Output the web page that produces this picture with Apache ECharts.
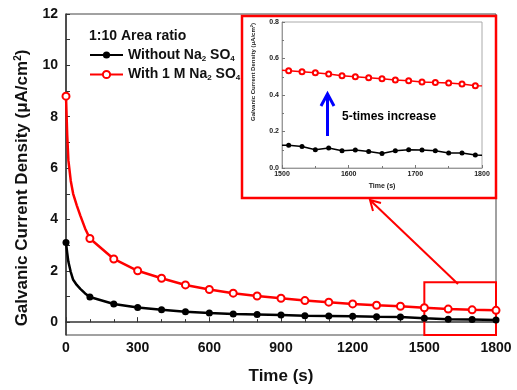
<!DOCTYPE html>
<html>
<head>
<meta charset="utf-8">
<script src="https://cdn.jsdelivr.net/npm/echarts@6/dist/echarts.min.js"></script>
<style>
  html, body { margin: 0; padding: 0; background: #fff; }
  #chart { width: 517px; height: 390px; }
</style>
</head>
<body>
<div id="chart"></div>
<script>
// main plot: time (s) and current density (uA/cm2)
const mainTime = [0, 5, 10, 20, 30, 45, 60, 80, 100, 200, 300, 400, 500, 600, 700, 800, 900, 1000, 1100, 1200, 1300, 1400, 1500, 1600, 1700, 1800];
const withoutNa = [3.1, 2.7, 2.35, 1.95, 1.65, 1.45, 1.3, 1.12, 0.98, 0.71, 0.57, 0.48, 0.41, 0.36, 0.32, 0.3, 0.28, 0.25, 0.24, 0.23, 0.21, 0.2, 0.15, 0.11, 0.1, 0.08];
const withNa = [8.8, 7.3, 6.3, 5.5, 5.0, 4.55, 4.15, 3.65, 3.26, 2.46, 2.0, 1.71, 1.45, 1.27, 1.13, 1.02, 0.93, 0.84, 0.78, 0.71, 0.66, 0.62, 0.56, 0.51, 0.48, 0.46];
const yLabels = [0, 2, 4, 6, 8, 10, 12];
const yTicks = [0, 1, 2, 3, 4, 5, 6, 7, 8, 9, 10, 11, 12];

// inset: 1500-1800 s
const insetTime = [1500, 1510, 1530, 1550, 1570, 1590, 1610, 1630, 1650, 1670, 1690, 1710, 1730, 1750, 1770, 1790, 1800];
const insetWithout = [0.125, 0.124, 0.118, 0.1, 0.11, 0.095, 0.099, 0.091, 0.08, 0.095, 0.1, 0.099, 0.095, 0.082, 0.082, 0.071, 0.07];
const insetWith = [0.535, 0.533, 0.528, 0.522, 0.515, 0.506, 0.5, 0.495, 0.489, 0.482, 0.478, 0.471, 0.469, 0.466, 0.46, 0.451, 0.45];

const seriesNames = ['Without Na2SO4', 'With 1 M Na2SO4'];
const FONT = 'Liberation Sans, Arial, sans-serif';

const mainData = (vals) => mainTime.map((t, i) => ({
  value: [t, vals[i]],
  symbol: t % 100 === 0 ? undefined : 'none'
}));
const insetData = (vals) => insetTime.map((t, i) => ({
  value: [t, vals[i]],
  symbol: (t === 1500 || t === 1800) ? 'none' : undefined
}));

const chart = echarts.init(document.getElementById('chart'));

const option = {
  backgroundColor: '#fff',
  animation: false,
  title: {
    text: '1:10 Area ratio',
    left: 84, top: 24,
    textStyle: { fontFamily: FONT, fontSize: 14, fontWeight: 'bold', color: '#111' }
  },
  legend: {
    data: seriesNames,
    orient: 'vertical',
    left: 84, top: 43,
    itemWidth: 33, itemHeight: 9,
    itemGap: 5,
    formatter: (name) => name.replace('Na2SO4', 'Na{sub|2} SO{sub|4}'),
    textStyle: {
      fontFamily: FONT, fontSize: 14, fontWeight: 'bold', color: '#111',
      rich: {
        sub: { fontFamily: FONT, fontSize: 8, fontWeight: 'bold', color: '#111', padding: [7, 0, 0, 0] }
      }
    }
  },
  grid: [
    { left: 66, right: 21, top: 14, bottom: 55, show: true, borderColor: '#444', borderWidth: 1 },
    { left: 282, right: 35, top: 22, bottom: 222, show: true, borderColor: '#aaa', borderWidth: 1 }
  ],
  xAxis: [
    {
      gridIndex: 0, type: 'value', min: 0, max: 1800, interval: 300,
      name: 'Time (s)', nameLocation: 'middle', nameGap: 33,
      nameTextStyle: { fontFamily: FONT, fontSize: 17, fontWeight: 'bold', color: '#111' },
      axisLine: { lineStyle: { color: '#333', width: 1.5 } },
      axisTick: { inside: true, length: 5, lineStyle: { color: '#333' } },
      minorTick: { show: true, splitNumber: 3, length: 3, lineStyle: { color: '#333' } },
      splitLine: { show: false },
      axisLabel: { fontFamily: FONT, fontSize: 14, fontWeight: 'bold', color: '#111', margin: 6, formatter: (v) => String(v) }
    },
    {
      gridIndex: 1, type: 'value', min: 1500, max: 1800, interval: 100,
      name: 'Time (s)', nameLocation: 'middle', nameGap: 15,
      nameTextStyle: { fontFamily: FONT, fontSize: 7, fontWeight: 'bold', color: '#222' },
      axisLine: { lineStyle: { color: '#999', width: 1 } },
      axisTick: { inside: true, length: 3, lineStyle: { color: '#777' } },
      minorTick: { show: true, splitNumber: 2, length: 2, lineStyle: { color: '#777' } },
      splitLine: { show: false },
      axisLabel: { fontFamily: FONT, fontSize: 7, fontWeight: 'bold', color: '#222', margin: 3, formatter: (v) => String(v) }
    }
  ],
  yAxis: [
    {
      gridIndex: 0, type: 'value', min: -0.5, max: 12,
      axisLine: { show: true, lineStyle: { color: '#333', width: 1.5 } },
      axisTick: { show: true, inside: true, length: 4, customValues: yTicks, lineStyle: { color: '#333' } },
      splitLine: { show: false },
      axisLabel: {
        fontFamily: FONT, fontSize: 14, fontWeight: 'bold', color: '#111', margin: 8,
        customValues: yLabels
      }
    },
    {
      gridIndex: 1, type: 'value', min: 0, max: 0.8, interval: 0.2,
      axisLine: { show: true, lineStyle: { color: '#999', width: 1 } },
      axisTick: { show: true, inside: true, length: 3, lineStyle: { color: '#777' } },
      minorTick: { show: true, splitNumber: 2, length: 2, lineStyle: { color: '#777' } },
      splitLine: { show: false },
      axisLabel: {
        fontFamily: FONT, fontSize: 7, fontWeight: 'bold', color: '#222', margin: 3,
        formatter: (v) => v.toFixed(1)
      }
    }
  ],
  series: [
    {
      name: seriesNames[0], type: 'line', xAxisIndex: 0, yAxisIndex: 0,
      data: mainData(withoutNa),
      symbol: 'circle', symbolSize: 7,
      lineStyle: { color: '#000', width: 2.5 },
      itemStyle: { color: '#000' },
      z: 3
    },
    {
      name: seriesNames[1], type: 'line', xAxisIndex: 0, yAxisIndex: 0,
      data: mainData(withNa),
      symbol: 'emptyCircle', symbolSize: 7,
      lineStyle: { color: '#ff0000', width: 2.5 },
      itemStyle: { color: '#ff0000', borderColor: '#ff0000', borderWidth: 1 },
      markArea: {
        silent: true,
        itemStyle: { color: 'rgba(0,0,0,0)', borderColor: '#ff0000', borderWidth: 2 },
        data: [[{ xAxis: 1500, yAxis: -0.5 }, { xAxis: 1800, yAxis: 1.55 }]]
      },
      z: 4
    },
    {
      name: 'inset without', type: 'line', xAxisIndex: 1, yAxisIndex: 1,
      data: insetData(insetWithout),
      symbol: 'circle', symbolSize: 5,
      lineStyle: { color: '#000', width: 1.5 },
      itemStyle: { color: '#000' }
    },
    {
      name: 'inset with', type: 'line', xAxisIndex: 1, yAxisIndex: 1,
      data: insetData(insetWith),
      symbol: 'emptyCircle', symbolSize: 5,
      lineStyle: { color: '#ff0000', width: 1.5 },
      itemStyle: { color: '#ff0000', borderColor: '#ff7070', borderWidth: 1 }
    }
  ],
  graphic: [
    // main y axis name
    {
      type: 'text', x: 22, y: 188, rotation: Math.PI / 2,
      style: {
        text: 'Galvanic Current Density (μA/cm{sup|2})',
        fontFamily: FONT, fontSize: 17, fontWeight: 'bold', fill: '#111',
        align: 'center', verticalAlign: 'middle',
        rich: { sup: { fontFamily: FONT, fontSize: 10, fontWeight: 'bold', fill: '#111', padding: [0, 0, 8, 0] } }
      }
    },
    // inset frame
    {
      type: 'rect', shape: { x: 242, y: 16, width: 254, height: 182 },
      style: { fill: 'none', stroke: '#ff0000', lineWidth: 2.5 }, z: 10
    },
    // inset y axis name
    {
      type: 'text', x: 253, y: 72, rotation: Math.PI / 2,
      style: {
        text: 'Galvanic Current Density (μA/cm{sup|2})',
        fontFamily: FONT, fontSize: 6, fontWeight: 'bold', fill: '#222',
        align: 'center', verticalAlign: 'middle',
        rich: { sup: { fontFamily: FONT, fontSize: 4, fontWeight: 'bold', fill: '#222', padding: [0, 0, 3, 0] } }
      }
    },
    // 5-times annotation
    {
      type: 'text', x: 342, y: 117,
      style: {
        text: '5-times increase', fontFamily: FONT, fontSize: 12, fontWeight: 'bold', fill: '#000',
        align: 'left', verticalAlign: 'middle'
      }
    },
    {
      type: 'line', shape: { x1: 327.5, y1: 136, x2: 327.5, y2: 95 },
      style: { stroke: '#0000ff', lineWidth: 3 }
    },
    {
      type: 'polyline', shape: { points: [[321, 106], [327.5, 94], [334, 106]] },
      style: { stroke: '#0000ff', lineWidth: 3, fill: 'none' }
    },
    // red pointer arrow
    {
      type: 'line', shape: { x1: 458, y1: 284, x2: 371, y2: 201 },
      style: { stroke: '#ff0000', lineWidth: 2 }, z: 10
    },
    {
      type: 'polyline', shape: { points: [[373, 211], [370, 200], [381, 203]] },
      style: { stroke: '#ff0000', lineWidth: 2, fill: 'none' }, z: 10
    }
  ]
};

chart.setOption(option);
</script>
</body>
</html>
